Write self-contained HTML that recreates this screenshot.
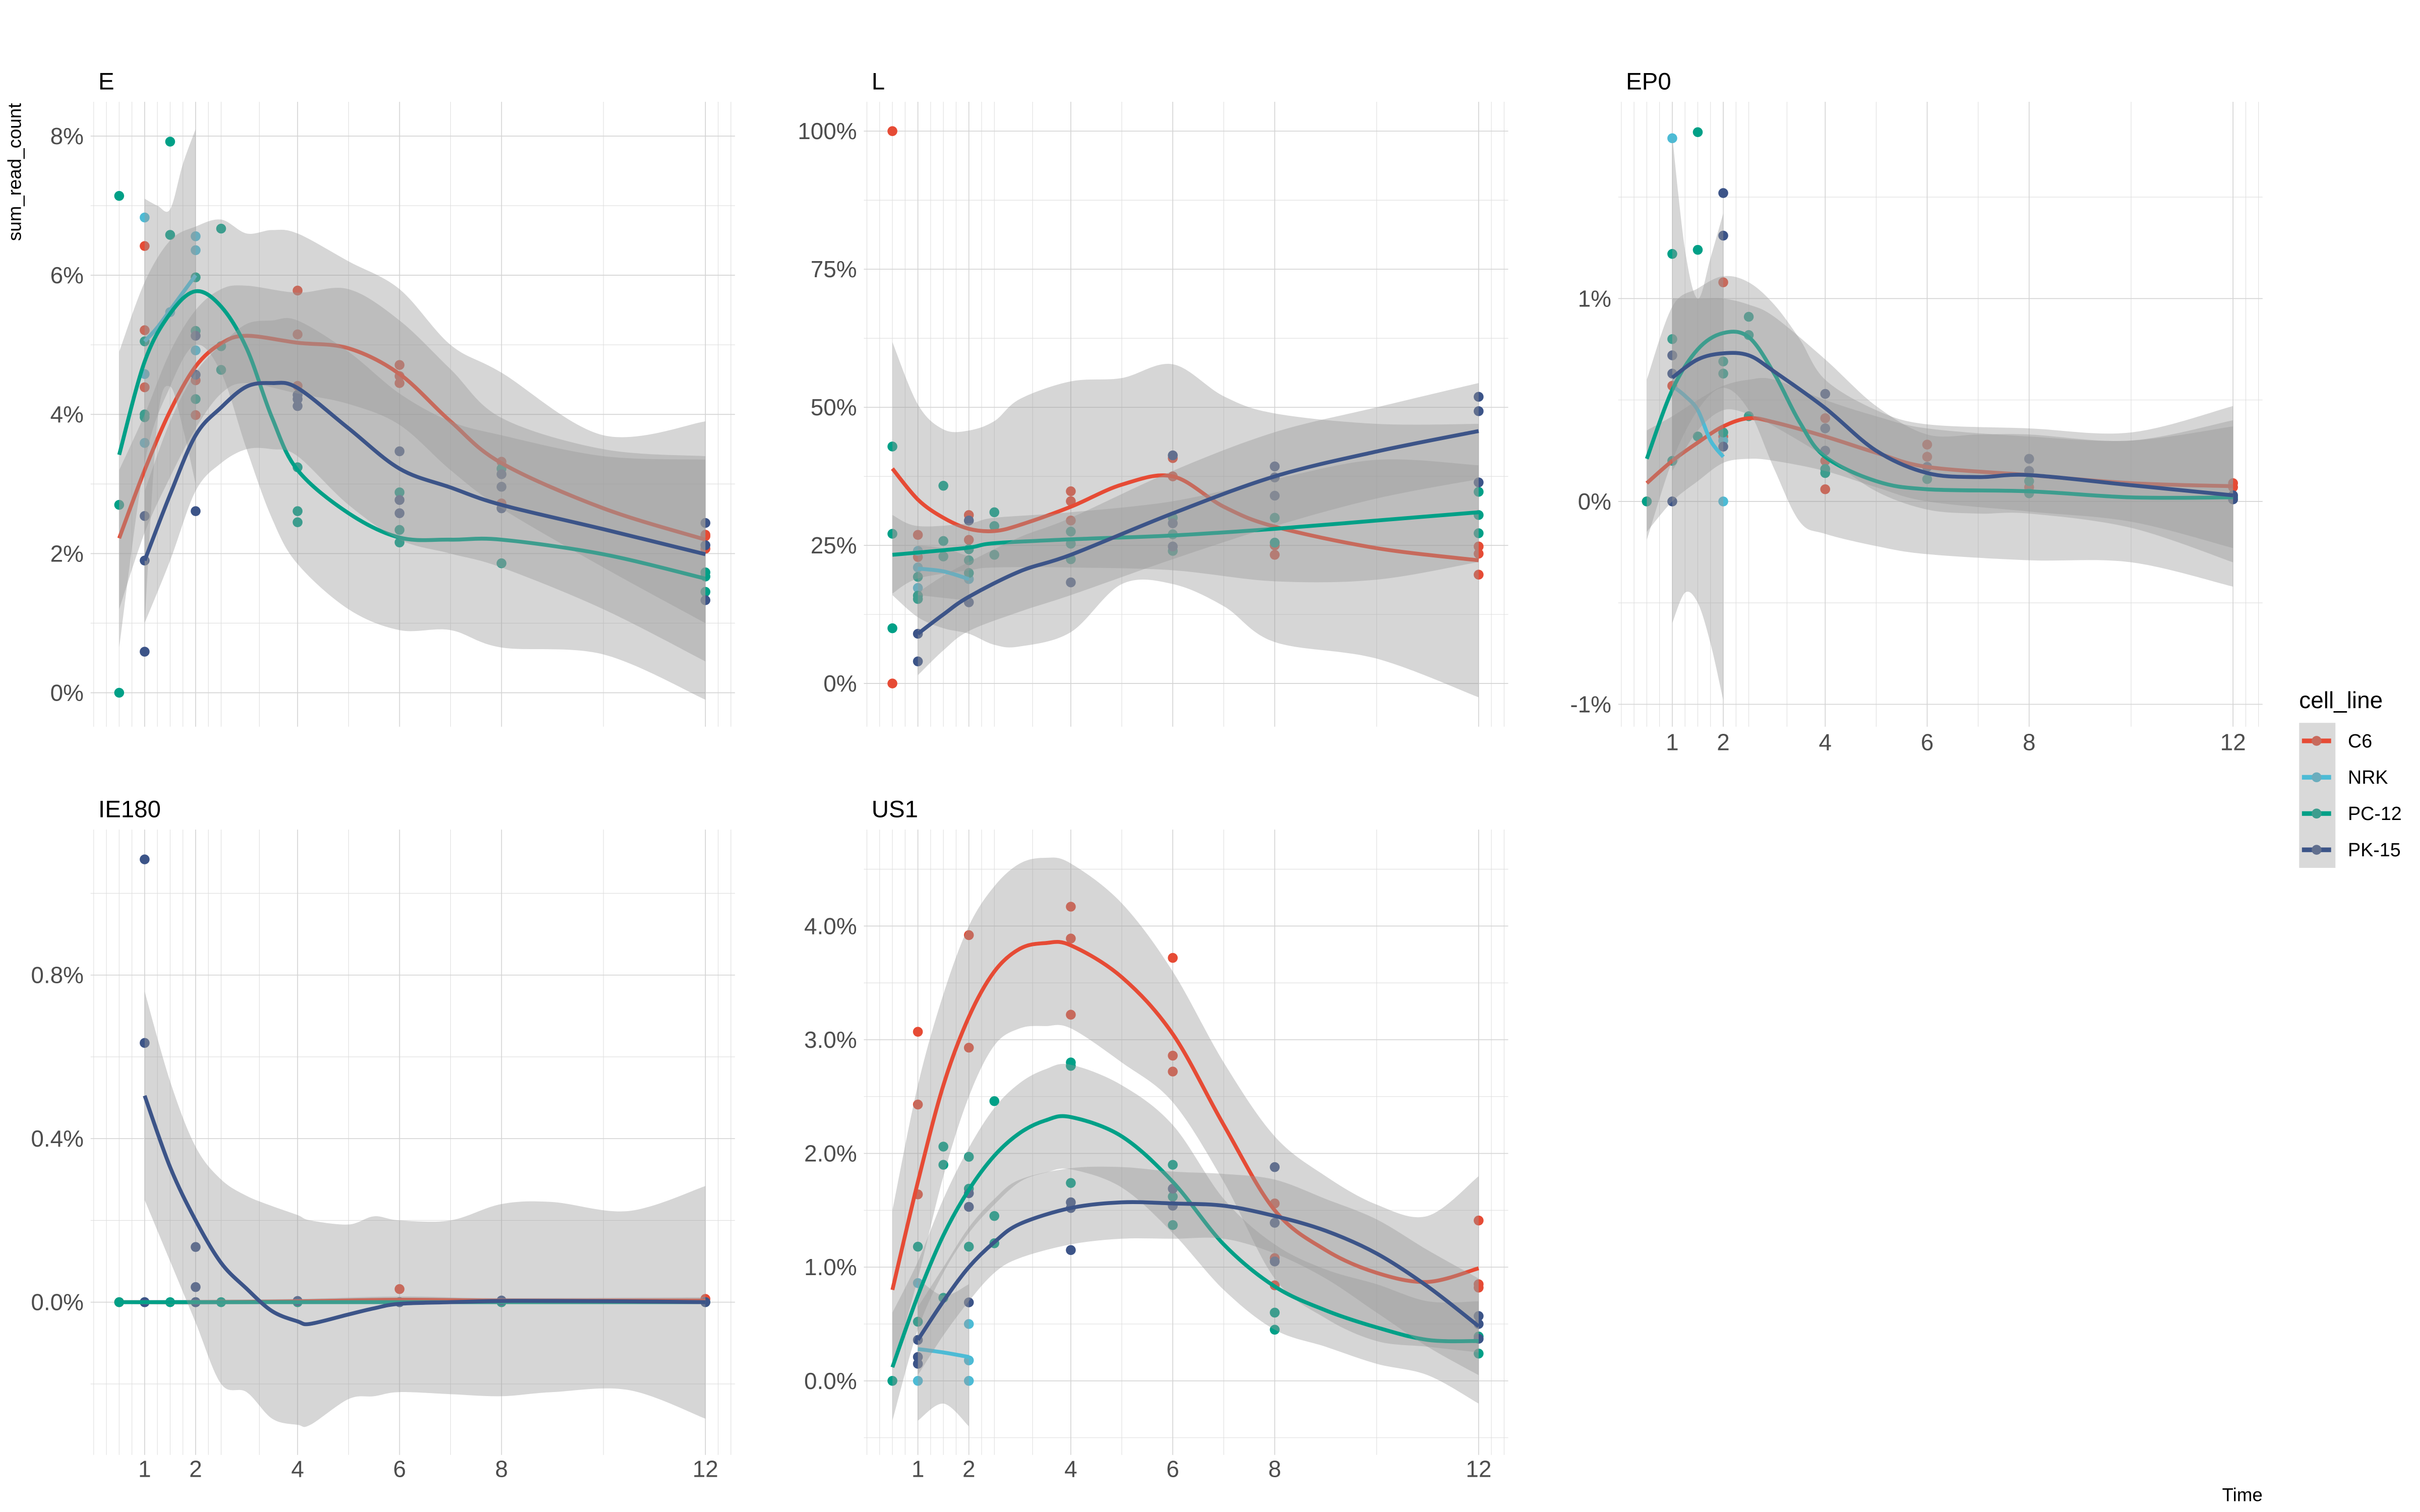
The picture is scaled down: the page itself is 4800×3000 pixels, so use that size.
<!DOCTYPE html>
<html><head><meta charset="utf-8">
<style>
html,body{margin:0;padding:0;background:#fff;}
svg{display:block;}
text{font-family:"Liberation Sans",Arial,sans-serif;}
</style></head>
<body>
<svg id="chart" xmlns="http://www.w3.org/2000/svg" width="4800" height="3000" viewBox="0 0 1568 980">
<rect x="0" y="0" width="1568" height="980" fill="#fff"/>
<g id="panels"></g>
<text x="9.5" y="111.5" font-size="12" fill="#000" text-anchor="middle" transform="rotate(-90 9.5 111.5)" dominant-baseline="central">sum_read_count</text>
<text x="1466" y="973" font-size="12" fill="#000" text-anchor="end">Time</text>
<g>
<text x="1489.7" y="459" font-size="15" fill="#000">cell_line</text>
<rect x="1489.7" y="468.5" width="23.5" height="94" fill="#d9d9d9"/>
<g id="legendKeys"></g>
</g>
</svg>
<script>
// ---- shared data ----
const seriesNames = ["C6","NRK","PC-12","PK-15"];
const seriesColors = ["#E64B35","#4DBBD5","#00A087","#3C5488"];
const xTickValues = [1,2,4,6,8,12];
const xTickLabels = ["1","2","4","6","8","12"];
const xMinorGrid = [0,0.25,0.5,0.75,1.25,1.5,1.75,2.25,2.5,3.25,5,7,10,12.25,12.5];

// ---- panel E ----
const E_yTicks = [0,2,4,6,8];
const E_yTickLabels = ["0%","2%","4%","6%","8%"];
const E_yMinor = [1,3,5,7];
const E_pts_C6 = [[1,6.42],[1,5.21],[1,4.39],[2,4.49],[2,3.99],[4,5.78],[4,5.15],[4,4.41],[6,4.71],[6,4.55],[6,4.45],[8,3.32],[8,2.72],[12,2.27],[12,2.25],[12,2.07]];
const E_pts_NRK = [[1,6.83],[1,4.58],[1,3.59],[2,6.56],[2,6.36],[2,4.92],[1.5,5.47]];
const E_pts_PC = [[0.5,7.14],[0.5,2.70],[0.5,0],[1,5.05],[1,3.96],[1,4.0],[1.5,7.92],[1.5,6.58],[2,5.97],[2,5.2],[2,4.22],[2.5,6.67],[2.5,4.98],[2.5,4.64],[4,3.24],[4,2.61],[4,2.45],[6,2.88],[6,2.34],[6,2.16],[8,3.22],[8,1.86],[12,1.73],[12,1.67],[12,1.45]];
const E_pts_PK = [[1,2.54],[1,1.9],[1,0.59],[2,5.13],[2,4.57],[2,2.61],[4,4.28],[4,4.22],[4,4.12],[6,3.47],[6,2.77],[6,2.58],[8,3.14],[8,2.96],[8,2.65],[12,2.44],[12,2.12],[12,1.33]];
const E_fit_C6 = [[0.5,2.22,1.2,3.2],[1,3.2,2.3,4.0],[1.5,4.05,3.1,4.9],[2,4.69,3.8,5.5],[2.5,5.02,4.3,5.8],[3,5.13,4.45,5.85],[4,5.03,4.3,5.75],[5,4.95,4.15,5.8],[6,4.58,3.85,5.35],[7,3.9,3.2,4.65],[8,3.3,2.65,3.95],[10,2.65,1.8,3.5],[12,2.2,1.0,3.4]];
const E_fit_NRK = [[1,5.05,1.0,7.1],[1.25,5.25,3.9,7.0],[1.5,5.5,4.4,6.95],[1.75,5.75,3.8,7.6],[2,6.0,3.0,8.1]];
const E_fit_PC = [[0.5,3.42,0.65,4.9],[1,4.76,3.3,5.9],[1.5,5.45,4.4,6.5],[2,5.77,5.0,6.7],[2.5,5.55,4.6,6.8],[3,4.95,3.5,6.6],[3.5,3.95,2.5,6.65],[4,3.2,1.85,6.6],[5,2.58,1.2,6.2],[6,2.23,0.9,5.8],[7,2.2,0.9,5.0],[8,2.2,0.65,4.6],[10,1.99,0.55,3.7],[12,1.64,-0.1,3.9]];
const E_fit_PK = [[1,1.9,1.0,2.9],[1.5,2.85,1.9,3.9],[2,3.7,2.9,4.6],[2.5,4.1,3.3,5.0],[3,4.4,3.5,5.3],[3.5,4.45,3.5,5.35],[4,4.38,3.4,5.35],[5,3.8,2.7,4.9],[6,3.22,2.2,4.3],[7,2.95,2.0,3.9],[8,2.7,1.8,3.7],[10,2.35,1.2,3.4],[12,1.99,0.45,3.35]];

// ---- panel L ----
const L_yTicks = [0,25,50,75,100];
const L_yTickLabels = ["0%","25%","50%","75%","100%"];
const L_yMinor = [12.5,37.5,62.5,87.5];
const L_pts_C6 = [[0.5,100],[0.5,0],[1,26.9],[1,22.9],[2,30.5],[2,26],[4,34.8],[4,33],[4,29.5],[6,40.8],[6,37.5],[8,25],[8,23.3],[12,24.8],[12,23.5],[12,19.7]];
const L_pts_NRK = [[1,24],[1,21],[1,17.3],[2,18.9]];
const L_pts_PC = [[0.5,42.9],[0.5,27.1],[0.5,10],[1,19.3],[1,15.9],[1,15.3],[1.5,35.8],[1.5,25.8],[1.5,23],[2,24.3],[2,22.3],[2,20],[2.5,31],[2.5,28.5],[2.5,23.3],[4,27.5],[4,25.3],[4,22.5],[6,30],[6,27],[6,24],[8,30],[8,25.5],[12,34.7],[12,30.5],[12,27.2]];
const L_pts_PK = [[1,9],[1,4],[2,29.5],[2,14.7],[4,18.3],[6,41.3],[6,29],[6,24.8],[8,39.3],[8,37.3],[8,34],[12,51.9],[12,49.3],[12,36.4]];
const L_fit_C6 = [[0.5,38.9,16,61.8],[1,33.3,12,50.5],[1.5,30,10,46],[2,28,9,45.8],[2.5,27.6,7,47.5],[3,28.7,6.7,51.5],[4,32,9.3,54.7],[5,36,18,55.3],[6,37.5,18,57.8],[7,32,14,52],[8,28.4,7.5,48.9],[10,24.5,4.5,47],[12,22.3,-2.5,47]];
const L_fit_NRK = [[1,20.8,16,25],[1.5,20.3,15.5,24.5],[2,18.9,15,23]];
const L_fit_PC = [[0.5,23.3,16.3,30.5],[1,23.7,19,28.5],[2,24.6,20.5,29],[2.5,25.4,21,30],[4,26.1,21,31],[6,26.8,20.5,33],[8,28,18.5,37],[10,29.5,18.8,40.5],[12,31,22,39.5]];
const L_fit_PK = [[1,9,1.5,16.5],[1.5,12.5,6,19.5],[2,15.7,9.5,22],[3,20.3,13,26.5],[4,23.3,16,30],[6,30.8,22.5,38.5],[8,37.5,28.5,45.5],[10,42,33.5,50],[12,45.7,37,54.4]];

// ---- panel EP0 ----
const P_yTicks = [-1,0,1];
const P_yTickLabels = ["-1%","0%","1%"];
const P_yMinor = [-0.5,0.5,1.5];
const P_pts_C6 = [[0.5,0],[1,0.57],[2,1.08],[2,0.32],[4,0.41],[4,0.2],[4,0.06],[6,0.28],[6,0.22],[8,0.07],[12,0.09],[12,0.07]];
const P_pts_NRK = [[1,1.79],[2,0.3],[2,0]];
const P_pts_PC = [[0.5,0],[1,1.22],[1,0.8],[1,0.2],[1.5,1.82],[1.5,1.24],[1.5,0.32],[2,0.69],[2,0.63],[2,0.34],[2.5,0.91],[2.5,0.82],[2.5,0.42],[4,0.16],[4,0.14],[6,0.11],[8,0.1],[8,0.04],[12,0.02]];
const P_pts_PK = [[1,0.72],[1,0.63],[1,0],[2,1.52],[2,1.31],[2,0.27],[4,0.53],[4,0.36],[4,0.25],[6,0.17],[8,0.21],[8,0.15],[12,0.03],[12,0.01]];
const P_fit_C6 = [[0.5,0.09,-0.15,0.35],[1,0.2,0.0,0.42],[1.5,0.29,0.1,0.5],[2,0.37,0.19,0.57],[2.5,0.41,0.21,0.6],[3,0.39,0.2,0.6],[4,0.32,0.15,0.5],[5,0.24,0.07,0.42],[6,0.17,0.0,0.36],[8,0.13,-0.05,0.32],[10,0.09,-0.1,0.3],[12,0.075,-0.23,0.37]];
const P_fit_NRK = [[1,0.57,-0.6,1.8],[1.25,0.52,-0.45,1.24],[1.5,0.45,-0.5,1.0],[1.75,0.3,-0.7,1.2],[2,0.22,-0.98,1.42]];
const P_fit_PC = [[0.5,0.21,-0.19,0.6],[1,0.55,0.2,0.96],[1.5,0.75,0.45,1.05],[2,0.83,0.56,1.11],[2.5,0.81,0.45,1.08],[3,0.63,0.16,0.97],[3.5,0.39,-0.1,0.8],[4,0.22,-0.16,0.6],[5,0.1,-0.22,0.45],[6,0.06,-0.26,0.38],[8,0.05,-0.29,0.36],[10,0.02,-0.3,0.34],[12,0.02,-0.42,0.47]];
const P_fit_PK = [[1,0.61,0.15,1.0],[1.5,0.7,0.35,1.0],[2,0.73,0.45,1.0],[2.5,0.72,0.43,0.97],[3,0.64,0.37,0.91],[4,0.46,0.22,0.7],[5,0.25,0.05,0.47],[6,0.14,-0.04,0.33],[7,0.12,-0.06,0.33],[8,0.13,-0.06,0.33],[10,0.08,-0.13,0.3],[12,0.03,-0.3,0.4]];

// ---- panel IE180 ----
const I_yTicks = [0,0.4,0.8];
const I_yTickLabels = ["0.0%","0.4%","0.8%"];
const I_yMinor = [-0.2,0.2,0.6,1.0];
const I_pts_C6 = [[0.5,0],[1,0],[2,0],[4,0],[6,0.032],[8,0],[12,0.008]];
const I_pts_NRK = [[1,0],[2,0]];
const I_pts_PC = [[0.5,0],[1,0],[1.5,0],[2,0],[2.5,0],[4,0],[6,0],[8,0],[12,0]];
const I_pts_PK = [[1,1.083],[1,0.634],[1,0],[2,0.135],[2,0.037],[2,0],[4,0.003],[6,0],[8,0.004],[12,0]];
const I_fit_C6 = [[0.5,0,-0.005,0.005],[2,0,-0.006,0.006],[4,0.002,-0.004,0.008],[6,0.006,-0.002,0.014],[8,0.004,-0.002,0.01],[12,0.004,-0.004,0.012]];
const I_fit_NRK = [[1,0,0,0],[2,0,0,0]];
const I_fit_PC = [[0.5,0,-0.002,0.002],[12,0,-0.002,0.002]];
const I_fit_PK = [[1,0.505,0.25,0.76],[1.5,0.33,0.1,0.54],[2,0.2,-0.05,0.38],[2.5,0.096,-0.2,0.3],[3,0.033,-0.22,0.26],[3.5,-0.022,-0.285,0.235],[4,-0.047,-0.3,0.213],[4.25,-0.053,-0.3,0.2],[5,-0.03,-0.237,0.19],[5.5,-0.015,-0.23,0.21],[6,-0.004,-0.22,0.2],[7,0,-0.225,0.2],[8,0.003,-0.23,0.24],[9,0.003,-0.22,0.245],[10.5,0.002,-0.215,0.223],[12,0,-0.285,0.284]];

// ---- panel US1 ----
const U_yTicks = [0,1,2,3,4];
const U_yTickLabels = ["0.0%","1.0%","2.0%","3.0%","4.0%"];
const U_yMinor = [-0.5,0.5,1.5,2.5,3.5,4.5];
const U_pts_C6 = [[1,3.07],[1,2.43],[1,1.64],[2,3.92],[2,2.93],[4,4.17],[4,3.89],[4,3.22],[6,3.72],[6,2.86],[6,2.72],[8,1.56],[8,1.08],[8,0.84],[12,1.41],[12,0.85],[12,0.82]];
const U_pts_NRK = [[1,0.86],[1,0],[2,0.5],[2,0.18],[2,0]];
const U_pts_PC = [[0.5,0],[1,1.18],[1,0.52],[1.5,2.06],[1.5,1.9],[1.5,0.73],[2,1.97],[2,1.69],[2,1.18],[2.5,2.46],[2.5,1.45],[2.5,1.21],[4,2.8],[4,2.77],[4,1.74],[6,1.9],[6,1.62],[6,1.37],[8,0.6],[8,0.45],[12,0.39],[12,0.24]];
const U_pts_PK = [[1,0.36],[1,0.21],[1,0.15],[2,1.65],[2,1.53],[2,0.69],[4,1.57],[4,1.52],[4,1.15],[6,1.69],[6,1.54],[8,1.88],[8,1.39],[8,1.05],[12,0.57],[12,0.5],[12,0.37]];
const U_fit_C6 = [[0.5,0.8,0.1,1.5],[1,1.75,0.9,2.6],[1.5,2.6,1.8,3.4],[2,3.2,2.5,4.0],[2.5,3.6,2.95,4.35],[3,3.8,3.1,4.55],[3.5,3.85,3.12,4.6],[4,3.83,3.1,4.55],[5,3.55,2.8,4.2],[6,3.05,2.45,3.6],[7,2.25,1.75,2.8],[8,1.5,0.9,2.15],[9,1.15,0.55,1.8],[10,0.95,0.35,1.55],[11,0.87,0.3,1.45],[12,0.99,0.25,1.8]];
const U_fit_NRK = [[1,0.28,-0.35,0.9],[1.5,0.25,-0.2,0.75],[2,0.21,-0.4,0.85]];
const U_fit_PC = [[0.5,0.12,-0.35,0.6],[1,0.75,0.45,1.05],[1.5,1.28,0.95,1.6],[2,1.68,1.3,2.05],[2.5,1.98,1.55,2.4],[3,2.18,1.75,2.62],[3.5,2.29,1.83,2.74],[4,2.32,1.86,2.78],[5,2.15,1.7,2.6],[6,1.75,1.3,2.25],[7,1.2,0.8,1.6],[8,0.83,0.45,1.2],[9,0.62,0.3,0.98],[10,0.47,0.15,0.85],[11,0.36,0.05,0.7],[12,0.35,-0.2,0.7]];
const U_fit_PK = [[1,0.36,0.05,0.65],[1.5,0.7,0.4,1.0],[2,1.0,0.7,1.35],[2.5,1.22,0.95,1.6],[3,1.38,1.08,1.77],[4,1.52,1.2,1.87],[5,1.57,1.25,1.88],[6,1.56,1.25,1.84],[7,1.54,1.25,1.82],[8,1.45,1.12,1.77],[9,1.32,0.9,1.6],[10,1.12,0.6,1.42],[11,0.83,0.3,1.15],[12,0.48,0.05,0.9]];

// ---- layout (pixel geometry, not data) ----
const panelDefs = [
  {name:"E", x0:60.7, top:66, bottom:471, yZero:449, yPer:45.1, yt:E_yTicks, yl:E_yTickLabels, ym:E_yMinor, pts:[E_pts_C6,E_pts_NRK,E_pts_PC,E_pts_PK], fits:[E_fit_C6,E_fit_NRK,E_fit_PC,E_fit_PK], xlab:null},
  {name:"L", x0:561.7, top:66, bottom:471, yZero:443, yPer:3.58, yt:L_yTicks, yl:L_yTickLabels, ym:L_yMinor, pts:[L_pts_C6,L_pts_NRK,L_pts_PC,L_pts_PK], fits:[L_fit_C6,L_fit_NRK,L_fit_PC,L_fit_PK], xlab:null},
  {name:"EP0", x0:1050.5, top:66, bottom:471, yZero:325, yPer:131.5, yt:P_yTicks, yl:P_yTickLabels, ym:P_yMinor, pts:[P_pts_C6,P_pts_NRK,P_pts_PC,P_pts_PK], fits:[P_fit_C6,P_fit_NRK,P_fit_PC,P_fit_PK], xlab:481},
  {name:"IE180", x0:60.7, top:537.7, bottom:943, yZero:844, yPer:265, yt:I_yTicks, yl:I_yTickLabels, ym:I_yMinor, pts:[I_pts_C6,I_pts_NRK,I_pts_PC,I_pts_PK], fits:[I_fit_C6,I_fit_NRK,I_fit_PC,I_fit_PK], xlab:952},
  {name:"US1", x0:561.7, top:537.7, bottom:943, yZero:895, yPer:73.7, yt:U_yTicks, yl:U_yTickLabels, ym:U_yMinor, pts:[U_pts_C6,U_pts_NRK,U_pts_PC,U_pts_PK], fits:[U_fit_C6,U_fit_NRK,U_fit_PC,U_fit_PK], xlab:952}
];
const XPER = 33.03;
const NS = "http://www.w3.org/2000/svg";
function mk(tag, attrs, parent){
  const e = document.createElementNS(NS, tag);
  for (const k in attrs) e.setAttribute(k, attrs[k]);
  if (parent) parent.appendChild(e);
  return e;
}
function smoothPath(pts){
  if (pts.length < 2) return "";
  let d = "M" + pts[0][0].toFixed(2) + "," + pts[0][1].toFixed(2);
  for (let i = 0; i < pts.length - 1; i++){
    const p0 = pts[Math.max(0,i-1)], p1 = pts[i], p2 = pts[i+1], p3 = pts[Math.min(pts.length-1,i+2)];
    const c1x = p1[0] + (p2[0]-p0[0])/6, c1y = p1[1] + (p2[1]-p0[1])/6;
    const c2x = p2[0] - (p3[0]-p1[0])/6, c2y = p2[1] - (p3[1]-p1[1])/6;
    d += "C" + c1x.toFixed(2) + "," + c1y.toFixed(2) + " " + c2x.toFixed(2) + "," + c2y.toFixed(2) + " " + p2[0].toFixed(2) + "," + p2[1].toFixed(2);
  }
  return d;
}
const root = document.getElementById("panels");
panelDefs.forEach(function(p){
  const xs = function(t){ return p.x0 + XPER * t; };
  const ys = function(v){ return p.yZero - p.yPer * v; };
  const left = xs(-0.06), right = xs(12.58);
  const g = mk("g", {}, root);
  
  
  const title = mk("text", {x: left + 5, y: p.top - 8, "font-size": 15.5, fill: "#000"}, g);
  title.textContent = p.name;
  
  
  const grid = mk("g", {stroke: "#dedede"}, g);
  
  
  p.ym.forEach(function(v){ mk("line", {x1:left, x2:right, y1:ys(v), y2:ys(v), "stroke-width":0.35}, grid); });
  xMinorGrid.forEach(function(t){ mk("line", {x1:xs(t), x2:xs(t), y1:p.top, y2:p.bottom, "stroke-width":0.35}, grid); });
  p.yt.forEach(function(v){ mk("line", {x1:left, x2:right, y1:ys(v), y2:ys(v), "stroke-width":0.55, stroke:"#d4d4d4"}, grid); });
  xTickValues.forEach(function(t){ mk("line", {x1:xs(t), x2:xs(t), y1:p.top, y2:p.bottom, "stroke-width":0.55, stroke:"#d4d4d4"}, grid); });
  p.yt.forEach(function(v, i){
    const tl = mk("text", {x: left - 4.5, y: ys(v), "font-size": 15, fill: "#4d4d4d", "text-anchor": "end", "dominant-baseline": "central"}, g);
    tl.textContent = p.yl[i];
    
    
  });
  if (p.xlab !== null){
    xTickValues.forEach(function(t, i){
      const tl = mk("text", {x: xs(t), y: p.xlab, "font-size": 15, fill: "#4d4d4d", "text-anchor": "middle", "dominant-baseline": "central"}, g);
      tl.textContent = xTickLabels[i];
      
      
    });
  }
  p.pts.forEach(function(arr, si){
    arr.forEach(function(pt){
      const c = mk("circle", {cx: xs(pt[0]), cy: ys(pt[1]), r: 3.2, fill: seriesColors[si]}, g);
      
      
    });
  });
  p.fits.forEach(function(arr, si){
    const up = arr.map(function(r){ return [xs(r[0]), ys(r[3])]; });
    const lo = arr.map(function(r){ return [xs(r[0]), ys(r[2])]; }).reverse();
    let d = smoothPath(up);
    const dl = smoothPath(lo);
    d += "L" + dl.slice(1) + "Z";
    const rb = mk("path", {d: d, fill: "#999999", "fill-opacity": 0.4, stroke: "none"}, g);
    
    
    const ln = mk("path", {d: smoothPath(arr.map(function(r){ return [xs(r[0]), ys(r[1])]; })), fill: "none", stroke: seriesColors[si], "stroke-width": 2.5, "stroke-linecap": "butt"}, g);
    
    
  });
});
const legendYs = [480.2, 503.8, 527.3, 550.8];
const lk = document.getElementById("legendKeys");
seriesNames.forEach(function(n, i){
  const gk = mk("g", {}, lk);
  
  
  mk("line", {x1:1491.5, x2:1510.4, y1:legendYs[i], y2:legendYs[i], stroke:seriesColors[i], "stroke-width":3}, gk);
  mk("circle", {cx:1501, cy:legendYs[i], r:3.2, fill:seriesColors[i]}, gk);
  mk("circle", {cx:1501, cy:legendYs[i], r:3.2, fill:"#999999", "fill-opacity":0.4}, gk);
  const t = mk("text", {x:1521.3, y:legendYs[i], "font-size":12.3, fill:"#000", "dominant-baseline":"central"}, gk);
  t.textContent = n;
  
  
});
</script>
</body></html>
